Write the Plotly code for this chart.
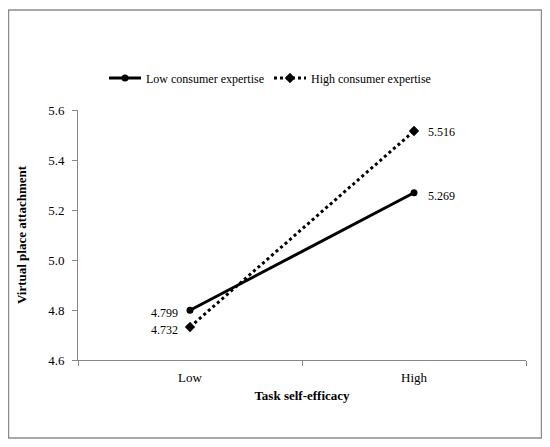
import plotly.graph_objects as go

categories = ["Low", "High"]
low_expertise = [4.799, 5.269]
high_expertise = [4.732, 5.516]
series_names = ["Low consumer expertise", "High consumer expertise"]
y_ticks = [4.6, 4.8, 5.0, 5.2, 5.4, 5.6]

FONT = "Liberation Serif, Times New Roman, serif"
AX = "#878787"

fig = go.Figure()
fig.add_trace(go.Scatter(
    x=categories, y=low_expertise, name=series_names[0],
    mode="lines+markers",
    line=dict(color="black", width=3),
    marker=dict(symbol="circle", size=7, color="black"),
    cliponaxis=False,
))
fig.add_trace(go.Scatter(
    x=categories, y=high_expertise, name=series_names[1],
    mode="lines+markers",
    line=dict(color="black", width=3, dash="dot"),
    marker=dict(symbol="diamond", size=8, color="black"),
    cliponaxis=False,
))

annotations = []
for series, shifts in ((low_expertise, (-3, -3)), (high_expertise, (-3, -1))):
    for i, (cat, v) in enumerate(zip(categories, series)):
        left = i == 0
        annotations.append(dict(
            x=cat, y=v, xref="x", yref="y", text=f"{v:.3f}", showarrow=False,
            xanchor="right" if left else "left", yanchor="middle",
            xshift=-10 if left else 12, yshift=shifts[i],
            font=dict(family=FONT, size=12, color="black"),
        ))

# browser body adds an 8px margin: the figure sits at (8, 8) in the 550x447 window
W, H = 534, 431
L, T = 70, 102
R = W - 518
B = H - 352
pw, ph = W - L - R, H - T - B

def px_x(p):
    return (p - 8 - L) / pw

def px_y(p):
    return (H - B - (p - 8)) / ph

fig.update_layout(
    width=W, height=H,
    margin=dict(l=L, r=R, t=T, b=B, autoexpand=False),
    paper_bgcolor="white", plot_bgcolor="white",
    font=dict(family=FONT, size=12, color="black"),
    showlegend=True,
    legend=dict(orientation="h", x=px_x(270), y=px_y(78), xanchor="center", yanchor="middle",
                font=dict(family=FONT, size=12, color="black"), itemwidth=32,
                bgcolor="rgba(0,0,0,0)"),
    annotations=annotations,
    xaxis=dict(
        type="category", range=[-0.5, 1.5], automargin=False,
        showline=True, linecolor=AX, linewidth=1,
        ticks="outside", tickson="boundaries", ticklen=5, tickcolor=AX,
        ticklabelstandoff=5,
        showgrid=False, zeroline=False,
        tickfont=dict(family=FONT, size=13, color="black"),
        title=dict(text="<b>Task self-efficacy</b>", font=dict(family=FONT, size=13, color="black"), standoff=7),
    ),
    yaxis=dict(
        range=[4.6, 5.6], tickvals=y_ticks, tickformat=".1f", automargin=False,
        showline=True, linecolor=AX, linewidth=1,
        ticks="outside", ticklen=5, tickcolor=AX,
        ticklabelstandoff=5,
        showgrid=False, zeroline=False,
        tickfont=dict(family=FONT, size=13, color="black"),
        title=dict(text="<b>Virtual place attachment</b>", font=dict(family=FONT, size=13, color="black"), standoff=18),
    ),
    shapes=[dict(type="rect", xref="paper", yref="paper",
                 x0=px_x(8.5), x1=px_x(541.5), y0=px_y(438), y1=px_y(10),
                 line=dict(color="#8c8c8c", width=1.5), fillcolor="rgba(0,0,0,0)", layer="below")],
)

fig.write_html("out.html")
